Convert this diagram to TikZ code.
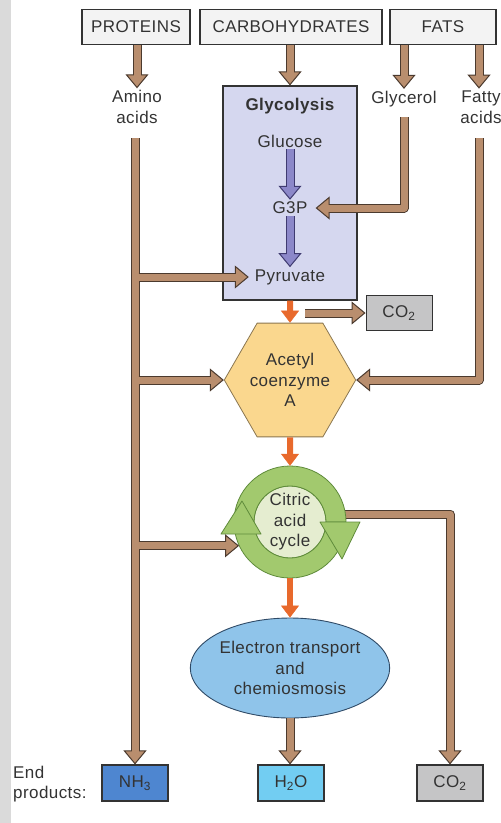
\documentclass[tikz,border=0pt]{standalone}
\usepackage{fontspec}
\setmainfont{Liberation Sans}[LetterSpace=2.5]
\usepackage{tikz}
\usetikzlibrary{shapes, positioning, arrows.meta, calc}

\definecolor{tanfill}{HTML}{B98E6E}
\definecolor{tanline}{HTML}{4B3A2E}
\definecolor{lilac}{HTML}{8C88C9}
\definecolor{lilacline}{HTML}{3F3B70}
\definecolor{flame}{HTML}{E8692C}
\definecolor{boxline}{HTML}{333333}
\definecolor{textgray}{HTML}{333333}
\definecolor{paper}{HTML}{F3F3F3}
\definecolor{glyfill}{HTML}{D5D7EF}
\definecolor{hexfill}{HTML}{FAD78E}
\definecolor{hexline}{HTML}{8A7650}
\definecolor{ringfill}{HTML}{A2C96E}
\definecolor{ringline}{HTML}{5F8B3B}
\definecolor{corefill}{HTML}{E5EDD0}
\definecolor{etcfill}{HTML}{8FC4EA}
\definecolor{etcline}{HTML}{2F4A66}
\definecolor{nhfill}{HTML}{4E86D0}
\definecolor{waterfill}{HTML}{72CDF2}
\definecolor{gasfill}{HTML}{C5C5C6}
\definecolor{stripgray}{HTML}{DADADA}

\begin{document}
\begin{tikzpicture}[x=1pt, y=-1pt,
font=\fontsize{17}{20.5}\selectfont,
text=textgray,
block/.style={draw=boxline, fill=#1, rectangle, line width=1.1pt, minimum height=35pt},
txt/.style={align=center, inner sep=2pt},
fatarrow/.style 2 args={draw=#2, line width=9pt, line join=round, -{Triangle[width=23pt, length=14pt, fill=#1, line width=1pt]}, postaction={draw=#1, line width=7pt, -, shorten >=12.5pt}},
tanarrow/.style={fatarrow={tanfill}{tanline}},
lilacarrow/.style={fatarrow={lilac}{lilacline}},
flamearrow/.style={draw=flame, line width=6pt, -{Triangle[width=18pt, length=12pt, line width=0.5pt]}},
ring/.style={fill=ringfill, draw=ringline, line width=0.8pt, line join=round}]

\useasboundingbox (0,0) rectangle (501,823);
\fill[stripgray] (0,0) rectangle (11,823);

\node[block=paper, minimum width=108pt]		(prot) at (136,27)		{PROTEINS};
\node[block=paper, minimum width=182pt]		(carb) at (291,27)		{CARBOHYDRATES};
\node[block=paper, minimum width=106pt]		(fats) at (443,27)		{FATS};

\node[txt]		(amino) at (137,107)		{Amino\\acids};
\node[txt]		(glyc) at (404,99)		{Glycerol};
\node[txt]		(fatty) at (481,107)		{Fatty\\acids};

\node[block=glyfill, minimum width=134pt, minimum height=214pt]		(glyco) at (290,193)		{};
\node[txt, font=\fontsize{17}{20.5}\selectfont\bfseries]		(gtitle) at (290,106)		{Glycolysis};
\node[txt]		(glu) at (290,141)		{Glucose};
\node[txt]		(g3p) at (290,208)		{G3P};
\node[txt]		(pyr) at (290,277)		{Pyruvate};

\node[block=gasfill, minimum width=66pt, line width=0.9pt]		(co2a) at (399,313)		{CO\textsubscript{2}};

\node[regular polygon, regular polygon sides=6, minimum size=104pt, draw=hexline, fill=hexfill, line width=0.8pt, align=center, inner sep=0pt]		(hex) at (290,380)		{Acetyl\\coenzyme\\A};

\node[ellipse, minimum width=174pt, minimum height=100pt, draw=etcline, fill=etcfill, line width=0.9pt, align=center, inner sep=0pt]		(etc) at (290,668)		{Electron transport\\and\\chemiosmosis};

\node[block=nhfill, minimum width=66pt, minimum height=36pt]		(nh3) at (135,783)		{NH\textsubscript{3}};
\node[block=waterfill, minimum width=66pt, minimum height=36pt]		(h2o) at (291,783)		{H\textsubscript{2}O};
\node[block=gasfill, minimum width=66pt, minimum height=36pt]		(co2b) at (450,783)		{CO\textsubscript{2}};
\node[align=left, anchor=west, inner sep=0pt]		(endp) at (13,784)		{End\\products:};

\coordinate (a0) at (135,138);
\coordinate (j0) at (138.5,138);
\coordinate (g0) at (404,117);
\coordinate (f0) at (479,138);
\coordinate (c0) at (305,313);
\coordinate (c1) at (345,514);
\coordinate (hub) at (290,522);

\draw[tanarrow] (c1) -| (co2b.north);

\fill[corefill, draw=ringline, line width=0.8pt] (hub) circle[radius=36];
\draw[ring] ($(hub)+(5:56)$) arc[start angle=5, end angle=168, radius=56] -- ($(hub)+(168:36)$) arc[start angle=168, end angle=5, radius=36] -- cycle;
\draw[ring] ($(hub)+(180:56)$) arc[start angle=180, end angle=360, radius=56] -- ($(hub)+(360:36)$) arc[start angle=360, end angle=180, radius=36] -- cycle;
\draw[ring] ($(hub)+(-69,12)$) -- ($(hub)+(-29,12)$) -- ($(hub)+(-48,-21)$) -- cycle;
\draw[ring] ($(hub)+(30,0)$) -- ($(hub)+(70,0)$) -- ($(hub)+(52,37)$) -- cycle;
\node[circle, minimum size=112pt, align=center, inner sep=0pt]		(cac) at (hub)		{Citric\\acid\\cycle};

\draw[tanarrow] (amino.north |- prot.south) -- (amino.north);
\draw[tanarrow] (glyco.north |- carb.south) -- (glyco.north);
\draw[tanarrow] (glyc.north |- fats.south) -- (glyc.north);
\draw[tanarrow] (f0 |- fats.south) -- (f0 |- fatty.north);

\draw[lilacarrow] (glu.south) -- (g3p.north);
\draw[lilacarrow] (g3p.south) -- (pyr.north);

\draw[tanarrow] (g0) |- ([xshift=6pt]g3p.east);
\draw[tanarrow] (f0) |- (hex.east);

\draw[tanarrow] (a0) -- (nh3.north);
\draw[tanarrow] (pyr.west -| j0) -- ([xshift=-4pt]pyr.west);
\draw[tanarrow] (hex.west -| j0) -- (hex.west);
\draw[tanarrow] (cac.-155 -| j0) -- (cac.-155);

\draw[tanarrow] (c0) -- (co2a.west);

\draw[flamearrow] (glyco.south) -- (hex.north);
\draw[flamearrow] (hex.south) -- (cac.north);
\draw[flamearrow] (cac.south) -- (etc.north);

\draw[tanarrow] (etc.south) -- (etc.south |- h2o.north);

\end{tikzpicture}
\end{document}
